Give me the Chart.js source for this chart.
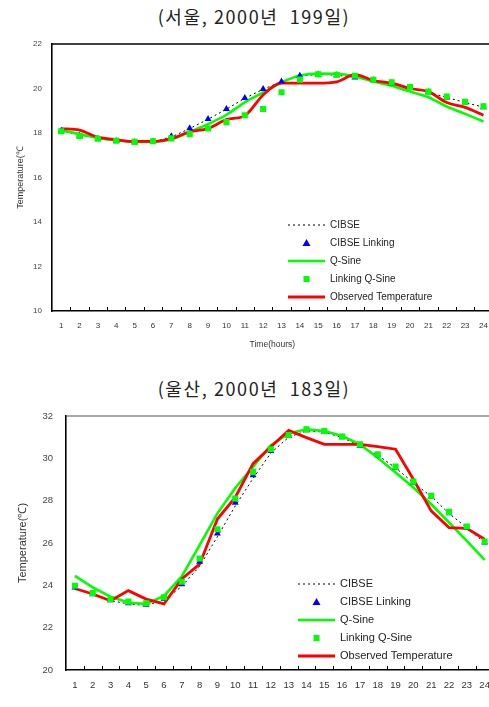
<!DOCTYPE html>
<html>
<head>
<meta charset="utf-8">
<script src="https://cdn.jsdelivr.net/npm/chart.js@4/dist/chart.umd.min.js"></script>
<style>
    html, body { margin: 0; padding: 0; background: #fff; overflow: hidden; width: 489px; height: 707px; }
    .title { position: absolute; left: 0; width: 508px; text-align: center; font-family: "Noto Sans CJK KR", sans-serif; font-size: 18px; letter-spacing: 1.6px; color: #222; white-space: pre; }
    .box { position: absolute; left: 0; }
</style>
</head>
<body>
<div class="title" style="top: 3px;">(서울, 2000년  199일)</div>
<div class="box" style="top: 0; width: 498px; height: 350px;"><canvas id="seoul"></canvas></div>
<div class="title" style="top: 375px;">(울산, 2000년  183일)</div>
<div class="box" style="top: 360px; width: 500px; height: 360px;"><canvas id="ulsan"></canvas></div>
<script>
    'use strict';

    var hours = ['1', '2', '3', '4', '5', '6', '7', '8', '9', '10', '11', '12',
        '13', '14', '15', '16', '17', '18', '19', '20', '21', '22', '23', '24'];
    var seriesNames = ['CIBSE', 'CIBSE Linking', 'Q-Sine', 'Linking Q-Sine', 'Observed Temperature'];

    // Seoul, day 199
    var seoulCibse = [18.1, 17.9, 17.75, 17.65, 17.6, 17.62, 17.82, 18.2, 18.62, 19.07, 19.56, 19.97,
        20.3, 20.56, 20.63, 20.6, 20.5, 20.37, 20.24, 20.04, 19.83, 19.6, 19.37, 19.16];
    var seoulCibseLinking = [18.1, 17.88, 17.73, 17.64, 17.58, 17.62, 17.85, 18.21, 18.63, 19.08, 19.57, 19.98,
        20.31, 20.57, 20.63, 20.6, 20.49, 20.37, 20.24, 20.04, 19.83, 19.6, 19.37, 19.16];
    var seoulQSine = [18.12, 17.95, 17.78, 17.66, 17.6, 17.62, 17.72, 18.05, 18.4, 18.82, 19.38, 19.82,
        20.27, 20.58, 20.67, 20.66, 20.54, 20.31, 20.12, 19.86, 19.61, 19.19, 18.86, 18.52];
    var seoulLinkingQSine = [18.08, 17.87, 17.74, 17.65, 17.6, 17.63, 17.76, 17.95, 18.2, 18.49, 18.8, 19.08,
        19.83, 20.4, 20.64, 20.62, 20.57, 20.39, 20.28, 20.06, 19.86, 19.64, 19.4, 19.2];
    var seoulObserved = [18.2, 18.13, 17.81, 17.7, 17.62, 17.62, 17.75, 18.05, 18.2, 18.6, 18.78, 19.71,
        20.24, 20.24, 20.24, 20.3, 20.62, 20.36, 20.24, 20.0, 19.86, 19.37, 19.15, 18.8];
    var seoulTicks = [10, 12, 14, 16, 18, 20, 22];

    // Ulsan, day 183
    var ulsanCibse = [23.85, 23.55, 23.28, 23.12, 23.05, 23.3, 23.95, 24.9, 26.3, 27.75, 29.05, 30.25,
        31.0, 31.3, 31.24, 30.98, 30.6, 30.15, 29.55, 28.85, 28.2, 27.4, 26.72, 26.02];
    var ulsanCibseLinking = [23.9, 23.58, 23.3, 23.15, 23.08, 23.35, 24.05, 25.12, 26.45, 27.9, 29.2, 30.35,
        31.05, 31.33, 31.25, 31.0, 30.6, 30.15, 29.55, 28.85, 28.2, 27.4, 26.72, 26.02];
    var ulsanQSine = [24.45, 23.9, 23.46, 23.19, 23.12, 23.5, 24.42, 25.9, 27.4, 28.6, 29.6, 30.62,
        31.18, 31.37, 31.29, 31.06, 30.66, 30.03, 29.33, 28.62, 27.83, 26.97, 26.1, 25.2];
    var ulsanLinkingQSine = [23.98, 23.64, 23.35, 23.23, 23.15, 23.43, 24.17, 25.27, 26.65, 28.1, 29.36, 30.43,
        31.1, 31.37, 31.29, 31.03, 30.66, 30.19, 29.61, 28.9, 28.23, 27.47, 26.78, 26.07];
    var ulsanObserved = [23.85, 23.59, 23.27, 23.75, 23.35, 23.12, 24.3, 25.0, 27.13, 28.15, 29.75, 30.55,
        31.32, 30.98, 30.66, 30.66, 30.66, 30.55, 30.43, 29.01, 27.52, 26.73, 26.69, 26.18];
    var ulsanTicks = [20, 22, 24, 26, 28, 30, 32];

    var RED = '#ff0000';
    var GREEN = '#00ff00';
    var BLUE = '#0000ff';
    var FONT = 'Arial, "Liberation Sans", sans-serif';

    function makeDatasets(cibse, cibseLinking, qSine, linkingQSine, observed, smooth) {
        var mode = smooth ? 'monotone' : 'default';
        return [{
            label: seriesNames[0],
            data: cibse,
            borderColor: '#000',
            borderWidth: 1,
            borderDash: [2, 3],
            pointRadius: 0,
            fill: false,
            order: 5
        }, {
            label: seriesNames[1],
            data: cibseLinking,
            showLine: false,
            pointStyle: 'triangle',
            pointRadius: 4,
            pointBackgroundColor: BLUE,
            pointBorderColor: BLUE,
            pointBorderWidth: 0,
            order: 2
        }, {
            label: seriesNames[2],
            data: qSine,
            borderColor: GREEN,
            borderWidth: 2.6,
            pointRadius: 0,
            cubicInterpolationMode: mode,
            fill: false,
            order: 4
        }, {
            label: seriesNames[3],
            data: linkingQSine,
            showLine: false,
            pointStyle: 'rect',
            pointRadius: 4.3,
            pointBackgroundColor: GREEN,
            pointBorderColor: GREEN,
            pointBorderWidth: 0,
            order: 1
        }, {
            label: seriesNames[4],
            data: observed,
            borderColor: RED,
            borderWidth: 2.8,
            pointRadius: 0,
            cubicInterpolationMode: mode,
            fill: false,
            order: 3
        }];
    }

    // frame, inward x ticks and the legend inside the plot
    var framePlugin = {
        id: 'frame',
        afterDatasetsDraw: function (chart, args, opts) {
            var ctx = chart.ctx;
            var area = chart.chartArea;
            var x = chart.scales.x;
            ctx.save();
            ctx.strokeStyle = opts.topColor;
            ctx.lineWidth = opts.topWidth;
            ctx.beginPath();
            ctx.moveTo(area.left, area.top);
            ctx.lineTo(area.right, area.top);
            ctx.stroke();

            ctx.strokeStyle = '#000';
            ctx.lineWidth = 1;
            var w = x.getPixelForValue(1) - x.getPixelForValue(0);
            var x0 = x.getPixelForValue(0) - w / 2;
            ctx.beginPath();
            for (var i = 1; i < hours.length; i++) {
                var px = Math.round(x0 + i * w) + 0.5;
                ctx.moveTo(px, area.bottom);
                ctx.lineTo(px, area.bottom - 4);
            }
            ctx.stroke();

            var lg = opts.legend;
            ctx.font = lg.size + 'px ' + FONT;
            ctx.textBaseline = 'middle';
            ctx.textAlign = 'left';
            chart.data.datasets.forEach(function (ds, k) {
                var y = lg.top + k * lg.row;
                var mid = (lg.x1 + lg.x2) / 2;
                if (ds.showLine === false) {
                    ctx.fillStyle = ds.pointBackgroundColor;
                    ctx.beginPath();
                    if (ds.pointStyle === 'triangle') {
                        ctx.moveTo(mid, y - 4);
                        ctx.lineTo(mid + 4, y + 3);
                        ctx.lineTo(mid - 4, y + 3);
                        ctx.closePath();
                        ctx.fill();
                    } else {
                        ctx.fillRect(mid - 3, y - 3, 6, 6);
                    }
                } else {
                    ctx.strokeStyle = ds.borderColor;
                    ctx.lineWidth = ds.borderWidth;
                    ctx.setLineDash(ds.borderDash || []);
                    ctx.beginPath();
                    ctx.moveTo(lg.x1, y);
                    ctx.lineTo(lg.x2, y);
                    ctx.stroke();
                    ctx.setLineDash([]);
                }
                ctx.fillStyle = '#222';
                ctx.fillText(ds.label, lg.text, y);
            });
            ctx.restore();
        }
    };

    function buildChart(id, datasets, ticks, look) {
        var canvas = document.getElementById(id);
        return new Chart(canvas, {
            type: 'line',
            data: { labels: hours, datasets: datasets },
            options: {
                responsive: true,
                maintainAspectRatio: false,
                animation: false,
                layout: { padding: { top: look.padTop, right: 3, left: 0, bottom: 0 } },
                plugins: {
                    legend: { display: false },
                    tooltip: { enabled: false },
                    frame: {
                        topColor: look.topColor,
                        topWidth: look.topWidth,
                        legend: look.legend
                    }
                },
                scales: {
                    x: {
                        type: 'category',
                        offset: true,
                        grid: { display: false, drawTicks: false },
                        border: { display: true, color: '#000', width: 1.6 },
                        ticks: {
                            autoSkip: false,
                            maxRotation: 0,
                            padding: look.xPad,
                            color: '#333',
                            font: { family: FONT, size: look.tickSize }
                        },
                        title: {
                            display: true,
                            text: 'Time(hours)',
                            color: '#333',
                            padding: { top: look.xTitlePad, bottom: 0 },
                            font: { family: FONT, size: look.xTitleSize }
                        },
                        afterFit: function (scale) {
                            scale.height = look.xHeight;
                        }
                    },
                    y: {
                        min: ticks[0],
                        max: ticks[ticks.length - 1],
                        afterBuildTicks: function (scale) {
                            scale.ticks = ticks.map(function (v) { return { value: v }; });
                        },
                        grid: { display: false, drawTicks: false },
                        border: { display: true, color: '#000', width: 1.6 },
                        ticks: {
                            padding: look.yPad,
                            color: '#444',
                            font: { family: FONT, size: look.tickSize }
                        },
                        title: {
                            display: true,
                            text: look.yTitle,
                            color: '#333',
                            padding: { top: look.yTitlePad, bottom: 0 },
                            font: { family: FONT, size: look.yTitleSize }
                        },
                        afterFit: function (scale) {
                            scale.width = look.yWidth;
                        }
                    }
                }
            },
            plugins: [framePlugin]
        });
    }

    buildChart('seoul',
        makeDatasets(seoulCibse, seoulCibseLinking, seoulQSine, seoulLinkingQSine, seoulObserved, true),
        seoulTicks, {
            padTop: 44,
            xHeight: 39,
            yWidth: 52,
            tickSize: 8,
            xPad: 10,
            yPad: 10,
            xTitleSize: 8.5,
            xTitlePad: 0,
            yTitle: 'Temperature(℃',
            yTitleSize: 9,
            yTitlePad: 15,
            topColor: '#000',
            topWidth: 1.6,
            legend: { top: 225, row: 18, x1: 288, x2: 325, text: 330, size: 10 }
        });

    buildChart('ulsan',
        makeDatasets(ulsanCibse, ulsanCibseLinking, ulsanQSine, ulsanLinkingQSine, ulsanObserved, false),
        ulsanTicks, {
            padTop: 56,
            xHeight: 50,
            yWidth: 66,
            tickSize: 9.5,
            xPad: 10,
            yPad: 13,
            xTitleSize: 12,
            xTitlePad: 11,
            yTitle: 'Temperature(℃)',
            yTitleSize: 11,
            yTitlePad: 16,
            topColor: '#555',
            topWidth: 1.2,
            legend: { top: 224, row: 18, x1: 298, x2: 335, text: 340, size: 11 }
        });
</script>
</body>
</html>
